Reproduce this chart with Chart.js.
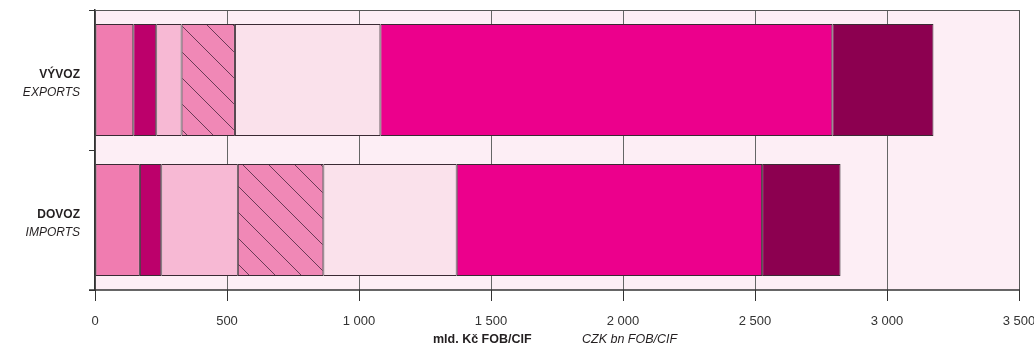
<!DOCTYPE html>
<html>
<head>
<meta charset="utf-8">
<script src="https://cdn.jsdelivr.net/npm/chart.js@4"></script>
<style>
  body { margin: 0; background: #fff; }
  #wrap { width: 1034px; height: 355px; position: relative; }
</style>
</head>
<body>
<div id="wrap"><canvas id="tradeChart"></canvas></div>
<script>
// Kategorie (vývoz / dovoz)
const categories = ['VÝVOZ', 'DOVOZ'];
const subLabels = ['EXPORTS', 'IMPORTS'];

// Hodnoty jednotlivých skupin, mld. Kč
const group1 = [145, 170];
const group2 = [87, 81];
const group3 = [96, 290];
const group4 = [202, 324];
const group5 = [551, 505];
const group6 = [1712, 1157];
const group7 = [383, 297];

const xTicks = [0, 500, 1000, 1500, 2000, 2500, 3000, 3500];

// šrafovaný vzor pro 4. skupinu
function hatchPattern() {
  const c = document.createElement('canvas');
  c.width = 26; c.height = 26;
  const g = c.getContext('2d');
  g.fillStyle = '#f088b6';
  g.fillRect(0, 0, 26, 26);
  g.strokeStyle = '#6a3a55';
  g.lineWidth = 1;
  g.beginPath();
  g.moveTo(-2, -2); g.lineTo(28, 28);
  g.moveTo(-15, 11); g.lineTo(15, 41);
  g.moveTo(11, -15); g.lineTo(41, 15);
  g.stroke();
  return document.getElementById('tradeChart').getContext('2d').createPattern(c, 'repeat');
}

const fills = ['#f07cb0', '#bc006b', '#f7b9d4', hatchPattern(), '#fae1eb', '#ec008c', '#8c0050'];
const groups = [group1, group2, group3, group4, group5, group6, group7];

const plotBg = {
  id: 'plotBg',
  beforeDraw(chart) {
    const a = chart.chartArea, ctx = chart.ctx;
    const xEnd = chart.scales.x.getPixelForValue(3500);
    ctx.save();
    ctx.fillStyle = '#fdeef5';
    ctx.fillRect(a.left, a.top, xEnd - a.left, a.bottom - a.top);
    ctx.restore();
  },
  beforeDatasetsDraw(chart) {
    const a = chart.chartArea, ctx = chart.ctx;
    const xEnd = Math.round(chart.scales.x.getPixelForValue(3500));
    ctx.save();
    ctx.strokeStyle = '#555';
    ctx.lineWidth = 1;
    ctx.beginPath();
    ctx.moveTo(a.left, a.top + 0.5); ctx.lineTo(xEnd, a.top + 0.5);
    ctx.moveTo(xEnd + 0.5, a.top); ctx.lineTo(xEnd + 0.5, a.bottom);
    ctx.stroke();
    ctx.strokeStyle = '#333';
    ctx.lineWidth = 1.5;
    ctx.beginPath();
    ctx.moveTo(a.left - 6, a.bottom); ctx.lineTo(xEnd + 1, a.bottom);
    ctx.stroke();
    ctx.restore();
  },
  afterDraw(chart) {
    const ctx = chart.ctx, y = chart.scales.y;
    ctx.save();
    ctx.fillStyle = '#231f20';
    ctx.textAlign = 'right';
    categories.forEach((cat, i) => {
      const py = y.getPixelForValue(i);
      ctx.font = 'bold 12px "Liberation Sans", Arial, sans-serif';
      ctx.fillText(cat, 80, py - 2);
      ctx.font = 'italic 12px "Liberation Sans", Arial, sans-serif';
      ctx.fillText(subLabels[i], 80, py + 16);
    });
    ctx.textAlign = 'left';
    ctx.font = 'bold 12.5px "Liberation Sans", Arial, sans-serif';
    ctx.fillText('mld. Kč FOB/CIF', 433, 343);
    ctx.font = 'italic 12.5px "Liberation Sans", Arial, sans-serif';
    ctx.fillText('CZK bn FOB/CIF', 582, 343);
    ctx.restore();
  }
};

new Chart(document.getElementById('tradeChart'), {
  type: 'bar',
  data: {
    labels: categories,
    datasets: groups.map((g, i) => ({
      label: 'skupina ' + (i + 1),
      data: g,
      backgroundColor: fills[i],
      borderColor: '#3a2a33',
      borderWidth: 1,
      borderSkipped: false,
      barPercentage: 1,
      categoryPercentage: 0.8
    }))
  },
  options: {
    indexAxis: 'y',
    responsive: true,
    maintainAspectRatio: false,
    animation: false,
    layout: { padding: { top: 10, right: 0, left: 0, bottom: 0 } },
    plugins: {
      legend: { display: false },
      tooltip: { enabled: false }
    },
    scales: {
      x: {
        stacked: true,
        min: 0,
        max: 3500,
        afterBuildTicks(scale) { scale.ticks = xTicks.map(v => ({ value: v })); },
        afterFit(scale) {
          scale.height = 65;
          scale.paddingRight = 15;
          scale.paddingLeft = 0;
        },
        grid: { color: '#666', lineWidth: 1, tickLength: 11, tickColor: '#333' },
        border: { display: false },
        ticks: {
          padding: 13,
          color: '#333',
          font: { family: '"Liberation Sans", Arial, sans-serif', size: 13 },
          maxRotation: 0,
          callback: v => v >= 1000 ? String(v).replace(/\B(?=(\d{3})+$)/, ' ') : String(v)
        }
      },
      y: {
        stacked: true,
        afterFit(scale) { scale.width = 95; },
        grid: { offset: true, drawOnChartArea: false, tickLength: 6, color: '#333' },
        border: { color: '#333', width: 1.5 },
        ticks: { display: false }
      }
    }
  },
  plugins: [plotBg]
});
</script>
</body>
</html>
